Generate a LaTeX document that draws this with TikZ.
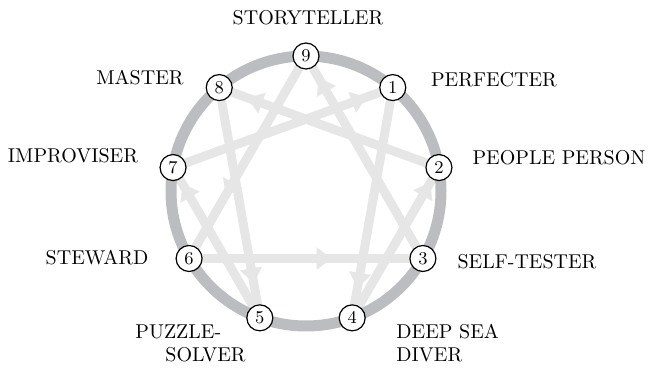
\documentclass[tikz,border=0pt]{standalone}
\usepackage{tikz}
\usetikzlibrary{arrows.meta, backgrounds, calc, decorations.markings}
\definecolor{ringgray}{HTML}{BCBDC0}
\definecolor{flowgray}{HTML}{E6E6E6}

\begin{document}
\begin{tikzpicture}[
            x=0.5pt, y=0.5pt,
            ring line/.style={line width=5.5pt, ringgray},
            flow line/.style={line width=4.5pt, flowgray, line cap=butt},
            flow/.style={flow line, postaction={decorate},
                decoration={markings, mark=at position #1 with {\arrow{Triangle[length=7.5pt, width=11pt, line width=0.1pt]}}}},
            num node/.style={circle, draw=black, line width=0.6pt, fill=white, minimum size=13pt, inner sep=0pt, font=\fontsize{9}{9}\selectfont},
            type label/.style={font=\fontsize{10}{11.5}\selectfont, inner sep=0pt},
        ]

        \useasboundingbox (0,0) rectangle (648,368);

        % Centre of the ring
        \coordinate (c) at (306,177);

        % Numbered points
        \foreach \i in {1,...,9} {
            \node[num node] (n\i) at ($(c)+({90-40*\i}:135)$) {\i};
        }

        \begin{scope}[on background layer]
            % Inner lines with arrows
            \foreach \a/\b/\p in {9/6/0.69, 6/3/0.61, 3/9/0.89, 1/4/0.87, 4/2/0.9, 2/8/0.87, 8/5/0.85, 5/7/0.89, 7/1/0.88} {
                \draw[flow=\p] (n\a.center) -- (n\b.center);
            }
            % Outer ring
            \draw[ring line] (c) circle[radius=135];
        \end{scope}

        % Type names
        \node[type label] (l9) at (308,350) {STORYTELLER};
        \node[type label] (l8) at (140,290) {MASTER};
        \node[type label] (l1) at (494,288) {PERFECTER};
        \node[type label] (l7) at (73,212) {IMPROVISER};
        \node[type label] (l2) at (559,210) {PEOPLE PERSON};
        \node[type label] (l6) at (97,110) {STEWARD};
        \node[type label] (l3) at (527,106) {SELF-TESTER};
        \node[type label, align=left, anchor=north west] (l5) at (135,44) {PUZZLE-\\\hspace*{15pt}SOLVER};
        \node[type label, align=left, anchor=north west] (l4) at (396,44) {DEEP SEA\\DIVER};

        \end{tikzpicture}
\end{document}
